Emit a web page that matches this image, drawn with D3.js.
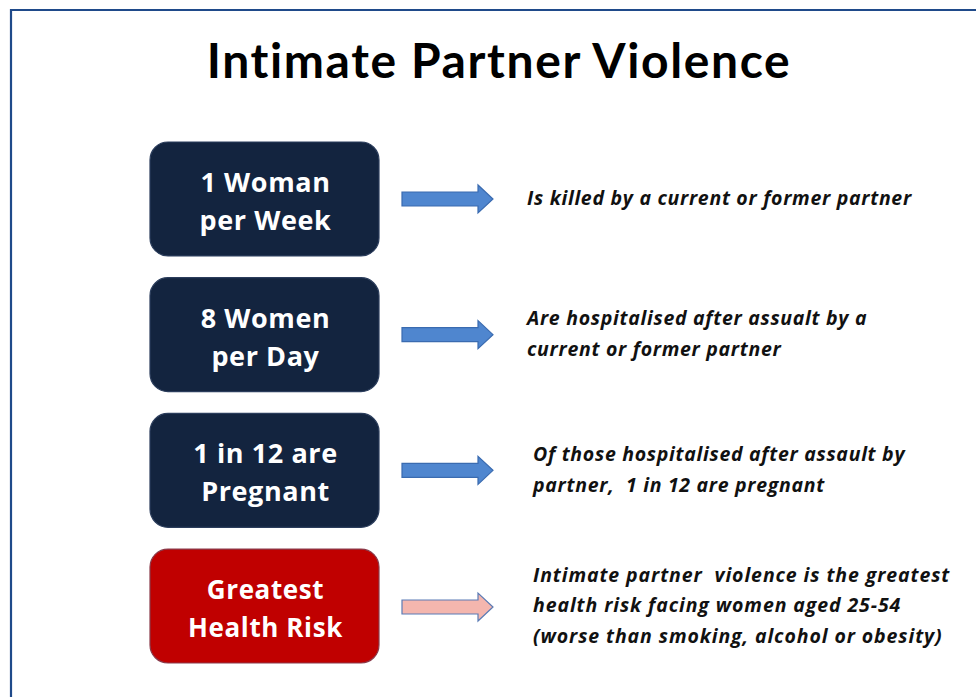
<!DOCTYPE html>
<html><head><meta charset="utf-8">
<script src="https://cdn.jsdelivr.net/npm/d3@7"></script>
<style>html,body{margin:0;padding:0;background:#fff;}svg{display:block;}</style>
</head><body>
<script>
const title = "Intimate Partner Violence";
const categories = ["1 Woman|per Week", "8 Women|per Day", "1 in 12 are|Pregnant", "Greatest|Health Risk"];
const descriptions = [
  ["Is killed by a current or former partner"],
  ["Are hospitalised after assualt by a", "current or former partner"],
  ["Of those hospitalised after assault by", "partner,  1 in 12 are pregnant"],
  ["Intimate partner  violence is the greatest", "health risk facing women aged 25-54", "(worse than smoking, alcohol or obesity)"]
];
const highlight = [false, false, false, true];

const W = 976, H = 697;
const svg = d3.select("body").append("svg").attr("width", W).attr("height", H);

// frame
svg.append("path").attr("d", `M11,${H+5} L11,10 L${W+5},10`).attr("fill","none")
  .attr("stroke","#1f4a8a").attr("stroke-width",2.2);

svg.append("text").attr("x", 499).attr("y", 78).attr("text-anchor","middle")
  .attr("font-family","Lato, 'Open Sans', sans-serif").attr("font-weight","bold")
  .attr("font-size", 48).attr("letter-spacing", 1.6).attr("fill","#000").text(title);

const y = d3.scaleBand().domain(d3.range(categories.length)).range([142, 663]).paddingInner(0.16);
const boxX = 150, boxW = 229;

const g = svg.selectAll("g.row").data(categories).join("g").attr("class","row")
  .attr("transform", (d,i)=>`translate(0,${y(i)})`);
const bh = y.bandwidth();

g.append("rect").attr("x", boxX).attr("y", 0).attr("width", boxW).attr("height", bh)
  .attr("rx", 18).attr("ry", 18)
  .attr("fill", (d,i)=> highlight[i] ? "#c00000" : "#13243f")
  .attr("stroke", (d,i)=> highlight[i] ? "#8a3a4a" : "#2b3d5c").attr("stroke-width", 1.2);

g.each(function(d,i){
  const lines = d.split("|");
  const t = d3.select(this).append("text").attr("text-anchor","middle")
    .attr("font-family","'Open Sans', Lato, sans-serif").attr("font-weight","bold")
    .attr("font-size", highlight[i] ? 26 : 27).attr("letter-spacing", 0.6).attr("fill","#fff");
  lines.forEach((l,k)=>{
    t.append("tspan").attr("x", boxX + boxW/2 + 1).attr("y", bh/2 - 7 + k*38).text(l);
  });
});

// arrows
const arrowPath = (x0, cy) => {
  const x1 = x0 + 76, x2 = x0 + 91;
  return `M${x0},${cy-7} L${x1},${cy-7} L${x1},${cy-14} L${x2},${cy} L${x1},${cy+14} L${x1},${cy+7} L${x0},${cy+7} Z`;
};
g.append("path").attr("d", (d,i)=> arrowPath(402, bh/2 + (i==3 ? 1 : 0)))
  .attr("fill", (d,i)=> highlight[i] ? "#f4b6ae" : "#4f86cf")
  .attr("stroke", (d,i)=> highlight[i] ? "#5a7bb5" : "#3a6bb0").attr("stroke-width", 1.2);

// descriptions
g.each(function(d,i){
  const lines = descriptions[i];
  const lh = 30.5;
  const x0 = i === 0 ? 527 : (i === 1 ? 527 : 533);
  const t = d3.select(this).append("text")
    .attr("font-family","'Open Sans', Lato, sans-serif").attr("font-weight","bold").attr("font-style","italic")
    .attr("font-size", 19.5).attr("letter-spacing", i === 3 ? 0.9 : 0.7).attr("fill","#111");
  const startY = bh/2 - (lines.length-1)*lh/2 + 6;
  lines.forEach((l,k)=>{
    t.append("tspan").attr("x", x0).attr("y", startY + k*lh).attr("xml:space","preserve").style("white-space","pre").text(l);
  });
});
</script>
</body></html>
